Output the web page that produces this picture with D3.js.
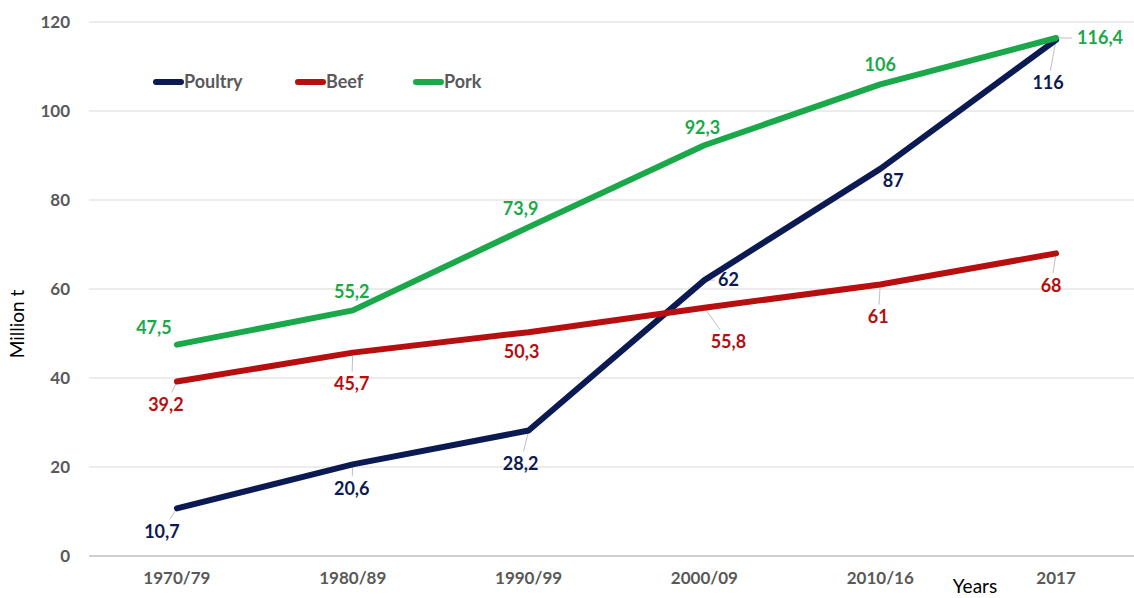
<!DOCTYPE html>
<html>
<head>
<meta charset="utf-8">
<script src="https://cdn.jsdelivr.net/npm/d3@7"></script>
<style>
  html, body { margin: 0; padding: 0; background: #fff; }
  svg { display: block; }
</style>
</head>
<body>
<svg id="chart" width="1134" height="598"></svg>
<script>
// ---------- data ----------
const categories = ["1970/79", "1980/89", "1990/99", "2000/09", "2010/16", "2017"];
const poultry = [10.7, 20.6, 28.2, 62, 87, 116];
const beef    = [39.2, 45.7, 50.3, 55.8, 61, 68];
const pork    = [47.5, 55.2, 73.9, 92.3, 106, 116.4];
const poultryLabels = ["10,7", "20,6", "28,2", "62", "87", "116"];
const beefLabels    = ["39,2", "45,7", "50,3", "55,8", "61", "68"];
const porkLabels    = ["47,5", "55,2", "73,9", "92,3", "106", "116,4"];
const yTicks = [0, 20, 40, 60, 80, 100, 120];
const seriesNames = ["Poultry", "Beef", "Pork"];

// ---------- styling / layout ----------
const colors = { Poultry: "#0b1a52", Beef: "#b70f0f", Pork: "#1ba84a" };
// label offsets (dx, dy) from each point, in px
const offsets = {
  Poultry: [[-15, 23], [-1, 24], [-8, 33], [24, 0], [13, 12], [-8, 43]],
  Beef:    [[-11, 23], [-1, 31], [-7, 20], [24, 34], [-2, 32], [-5, 32]],
  Pork:    [[-23, -17], [-1, -19], [-8, -18], [-2, -18], [0, -20], [44, 0]]
};
const leaders = {
  Poultry: [true, true, true, true, true, true],
  Beef:    [true, true, false, true, true, true],
  Pork:    [false, false, false, false, false, true]
};

const svg = d3.select("#chart");
const mLeft = 89, mRight = 1144, mTop = 22, mBottom = 556;

const x = d3.scaleBand().domain(categories).range([mLeft, mRight]).paddingInner(0).paddingOuter(0);
const cx = c => x(c) + x.bandwidth() / 2;
const y = d3.scaleLinear().domain([0, 120]).range([mBottom, mTop]);

const FONT = "Lato, 'Open Sans', sans-serif";

// gridlines
svg.append("g").selectAll("line").data(yTicks).join("line")
  .attr("x1", mLeft).attr("x2", mRight)
  .attr("y1", d => y(d)).attr("y2", d => y(d))
  .attr("stroke", d => d === 0 ? "#bfbfbf" : "#d9d9d9")
  .attr("stroke-width", d => d === 0 ? 1.5 : 1);

// y axis labels
const yAxis = d3.axisLeft(y).tickValues(yTicks).tickSize(0).tickPadding(0);
const gy = svg.append("g").attr("transform", `translate(${70},0)`).call(yAxis);
gy.select(".domain").remove();
gy.selectAll("text")
  .attr("font-family", FONT)
  .attr("font-weight", "bold").attr("font-size", 17).attr("fill", "#595959");

// x axis labels
const xAxis = d3.axisBottom(x).tickSize(0).tickPadding(0);
const gx = svg.append("g").attr("transform", `translate(0,${575})`).call(xAxis);
gx.select(".domain").remove();
gx.selectAll("text")
  .attr("dy", "0.5em")
  .attr("font-family", FONT)
  .attr("font-weight", "bold").attr("font-size", 17).attr("fill", "#595959");

// axis titles
svg.append("text")
  .attr("transform", `translate(24,${324}) rotate(-90)`)
  .attr("text-anchor", "middle")
  .attr("font-family", FONT)
  .attr("font-size", 19).attr("fill", "#000")
  .text("Million t");
svg.append("text")
  .attr("x", 975).attr("y", 593)
  .attr("text-anchor", "middle")
  .attr("font-family", FONT)
  .attr("font-size", 19).attr("fill", "#000")
  .text("Years");

const seriesData = {
  Poultry: { values: poultry, labels: poultryLabels },
  Beef:    { values: beef, labels: beefLabels },
  Pork:    { values: pork, labels: porkLabels }
};

const line = d3.line().x((d, i) => cx(categories[i])).y(d => y(d));

// leader lines (under the lines)
seriesNames.forEach(name => {
  const s = seriesData[name];
  s.values.forEach((v, i) => {
    if (!leaders[name][i]) return;
    const px = cx(categories[i]), py = y(v);
    const [dx, dy] = offsets[name][i];
    let t;
    if (Math.abs(dx) > Math.abs(dy)) t = Math.max(0, 1 - (name === "Pork" ? 28 : 14) / Math.abs(dx));
    else t = Math.max(0, 1 - 12 / Math.abs(dy));
    svg.append("line")
      .attr("x1", px).attr("y1", py)
      .attr("x2", px + dx * t).attr("y2", py + dy * t)
      .attr("stroke", "#bfbfbf").attr("stroke-width", 1);
  });
});

// series lines
seriesNames.forEach(name => {
  svg.append("path")
    .datum(seriesData[name].values)
    .attr("d", line)
    .attr("fill", "none")
    .attr("stroke", colors[name])
    .attr("stroke-width", 6)
    .attr("stroke-linecap", "round")
    .attr("stroke-linejoin", "round");
});

// data labels
seriesNames.forEach(name => {
  const s = seriesData[name];
  svg.append("g").selectAll("text").data(s.values).join("text")
    .attr("x", (d, i) => cx(categories[i]) + offsets[name][i][0])
    .attr("y", (d, i) => y(d) + offsets[name][i][1])
    .attr("dy", "0.35em")
    .attr("text-anchor", "middle")
    .attr("font-family", FONT)
    .attr("font-weight", "bold").attr("font-size", 18)
    .attr("fill", colors[name])
    .text((d, i) => s.labels[i]);
});

// legend
const legendX = [154, 296, 414];
const legendY = 82;
seriesNames.forEach((name, i) => {
  const g = svg.append("g").attr("transform", `translate(${legendX[i]},${legendY})`);
  g.append("line").attr("x1", 2).attr("x2", 27).attr("y1", 0).attr("y2", 0)
    .attr("stroke", colors[name]).attr("stroke-width", 6).attr("stroke-linecap", "round");
  g.append("text").attr("x", 30).attr("y", 0).attr("dy", "0.35em")
    .attr("font-family", FONT)
    .attr("font-weight", "bold").attr("font-size", 18).attr("fill", "#595959")
    .text(name);
});
</script>
</body>
</html>
